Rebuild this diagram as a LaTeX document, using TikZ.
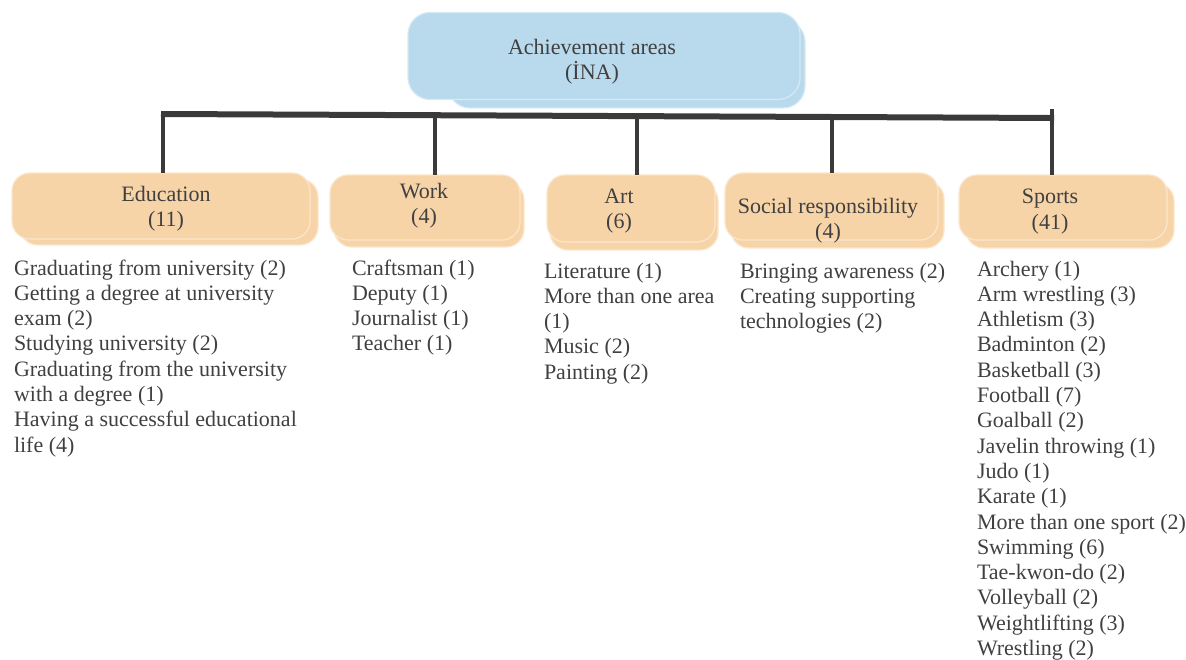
\documentclass[tikz,border=0pt]{standalone}
\usepackage{fontspec}
\setmainfont{Liberation Serif}
\definecolor{peach}{HTML}{F6D4A8}
\definecolor{peachedge}{HTML}{FBE6CC}
\definecolor{skyb}{HTML}{B9D9EC}
\definecolor{skyedge}{HTML}{D6E9F5}
\definecolor{txt}{HTML}{404040}
\definecolor{barc}{HTML}{3A3A3A}
\begin{document}
\begin{tikzpicture}[x=1pt,y=-1pt,
  every node/.style={inner sep=0pt, outer sep=0pt, text=txt, font=\fontsize{22}{25.3}\selectfont},
  catbox/.style={fill=peach, draw=peachedge, line width=1.2pt, rounded corners=18pt, minimum width=#1},
  topbox/.style={fill=skyb, draw=skyedge, line width=1.2pt, rounded corners=22pt},
  lbl/.style={align=center},
  lst/.style={align=left, anchor=base west},
  barline/.style={draw=barc, line width=6pt},
  vline/.style={draw=barc, line width=4pt}]
\useasboundingbox (0,0) rectangle (1186,660);
% top box
\node[topbox, minimum width=357pt, minimum height=88pt] (topB) at (626.5,64) {};
\node[topbox, minimum width=392pt, minimum height=87pt] (top) at (604,56) {};
\node[lbl] (topT) at (592,61.5) {Achievement areas\\(İNA)};
% category back boxes
\node[catbox=298pt, minimum height=66pt] (eduB) at (169,212) {};
\node[catbox=190pt, minimum height=65pt] (workB) at (429,214.5) {};
\node[catbox=168pt, minimum height=67pt] (artB) at (634,216.5) {};
\node[catbox=213pt, minimum height=67pt] (socB) at (837.5,214.5) {};
\node[catbox=208pt, minimum height=65pt] (spoB) at (1070,215.5) {};
% category front boxes
\node[catbox=298pt, minimum height=66pt] (edu) at (161,206) {};
\node[catbox=190pt, minimum height=65pt] (work) at (425,207.5) {};
\node[catbox=168pt, minimum height=67pt] (art) at (631,208.5) {};
\node[catbox=213pt, minimum height=67pt] (soc) at (831.5,206.5) {};
\node[catbox=208pt, minimum height=65pt] (spo) at (1063,207.5) {};
% labels
\node[lbl] (eduT) at (166,208.5) {Education\\(11)};
\node[lbl] (workT) at (424,205.5) {Work\\(4)};
\node[lbl] (artT) at (619,211) {Art\\(6)};
\node[lbl] (socT) at (828,221) {Social responsibility\\(4)};
\node[lbl] (spoT) at (1050,211.5) {Sports\\(41)};
% connectors
\coordinate (bL) at (161,114);
\coordinate (bR) at (1054,118);
\coordinate (vEdu) at (163,111);
\coordinate (vWork) at (435,112.2);
\coordinate (vArt) at (637,113.1);
\coordinate (vSoc) at (832,114);
\coordinate (vSpo) at (1052,109);
\draw[vline] (vEdu) -- (vEdu |- edu.north);
\draw[vline] (vWork) -- (vWork |- work.north);
\draw[vline] (vArt) -- (vArt |- art.north);
\draw[vline] (vSoc) -- (vSoc |- soc.north);
\draw[vline] (vSpo) -- (vSpo |- spo.north);
\draw[barline] (bL) -- (bR);
% lists (base anchor = baseline of last line)
\node[lst] (eduL) at (14,452.1) {Graduating from university (2)\\Getting a degree at university\\exam (2)\\Studying university (2)\\Graduating from the university\\with a degree (1)\\Having a successful educational\\life (4)};
\node[lst] (workL) at (352,350.9) {Craftsman (1)\\Deputy (1)\\Journalist (1)\\Teacher (1)};
\node[lst] (artL) at (544,379.2) {Literature (1)\\More than one area\\(1)\\Music (2)\\Painting (2)};
\node[lst] (socL) at (740,328.6) {Bringing awareness (2)\\Creating supporting\\technologies (2)};
\node[lst] (spoL) at (977,655.5) {Archery (1)\\Arm wrestling (3)\\Athletism (3)\\Badminton (2)\\Basketball (3)\\Football (7)\\Goalball (2)\\Javelin throwing (1)\\Judo (1)\\Karate (1)\\More than one sport (2)\\Swimming (6)\\Tae-kwon-do (2)\\Volleyball (2)\\Weightlifting (3)\\Wrestling (2)};
\end{tikzpicture}
\end{document}
